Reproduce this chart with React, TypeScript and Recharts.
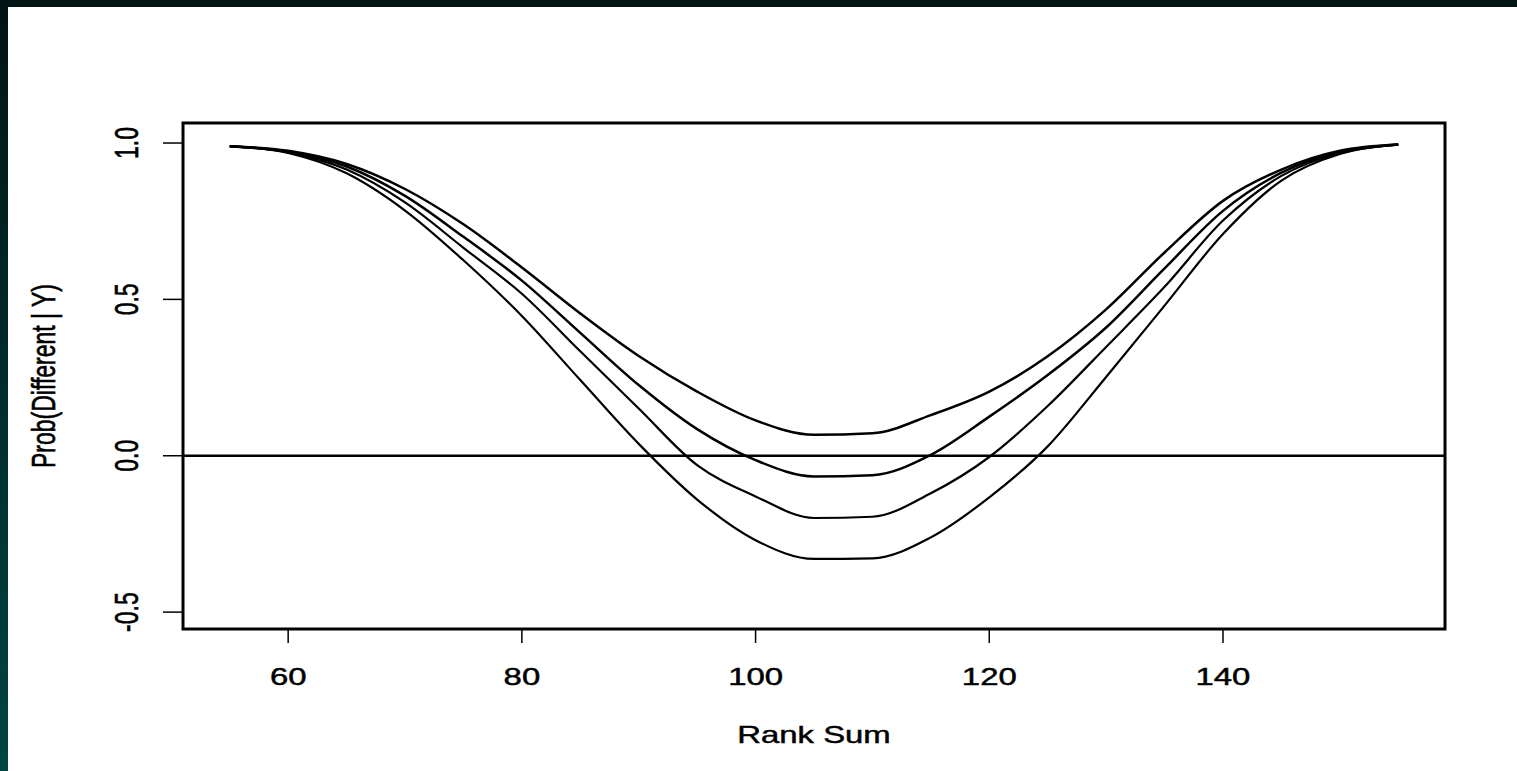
import { LineChart, Line, XAxis, YAxis, ReferenceLine, ReferenceArea, Label } from "recharts";

// rank sum grid and the four probability curves
const RANK_SUM = [55, 60, 65, 70, 75, 80, 85, 90, 95, 100, 105, 110, 115, 120, 125, 130, 135, 140, 145, 150, 155];
const CURVE_A = [0.99, 0.975, 0.933, 0.853, 0.74, 0.602, 0.455, 0.319, 0.205, 0.113, 0.067, 0.072, 0.13, 0.205, 0.318, 0.468, 0.65, 0.815, 0.915, 0.975, 0.995];
const CURVE_B = [0.99, 0.972, 0.925, 0.831, 0.7, 0.56, 0.393, 0.226, 0.085, -0.014, -0.066, -0.062, 0.003, 0.125, 0.258, 0.41, 0.599, 0.783, 0.905, 0.972, 0.995];
const CURVE_C = [0.99, 0.97, 0.915, 0.81, 0.665, 0.518, 0.334, 0.151, -0.03, -0.13, -0.199, -0.195, -0.12, -0.004, 0.159, 0.348, 0.54, 0.752, 0.895, 0.968, 0.995];
const CURVE_D = [0.99, 0.968, 0.903, 0.784, 0.625, 0.447, 0.242, 0.038, -0.14, -0.27, -0.33, -0.328, -0.261, -0.133, 0.03, 0.252, 0.48, 0.709, 0.88, 0.965, 0.995];

const X_TICKS = [60, 80, 100, 120, 140];
const Y_TICKS = [-0.5, 0, 0.5, 1.0];

const data = RANK_SUM.map((r, i) => ({
  rank: r,
  a: CURVE_A[i],
  b: CURVE_B[i],
  c: CURVE_C[i],
  d: CURVE_D[i],
}));

const FONT = "'Liberation Sans', Arial, sans-serif";
const STRETCH = 1.43;

const textStyle = {
  fontSize: 23,
  fontFamily: FONT,
  fill: "#000",
  stroke: "#000",
  strokeWidth: 0.45,
};

const XTick = ({ x, y, payload }: any) => (
  <text
    x={0}
    y={0}
    transform={`translate(${x},${y + 40}) scale(${STRETCH},1)`}
    textAnchor="middle"
    {...textStyle}
  >
    {payload.value}
  </text>
);

const YTick = ({ x, y, payload }: any) => (
  <text
    x={0}
    y={0}
    transform={`translate(${x - 23},${y}) scale(${STRETCH},1) rotate(-90)`}
    textAnchor="middle"
    {...textStyle}
  >
    {Number(payload.value).toFixed(1)}
  </text>
);

export default function App() {
  return (
    <div
      style={{
        position: "absolute",
        left: 0,
        top: 0,
        width: 1517,
        height: 771,
        background: "#fff",
        overflow: "hidden",
      }}
    >
      <div style={{ position: "absolute", left: 0, top: 0, width: 1517, height: 7, background: "#021414" }} />
      <div
        style={{
          position: "absolute",
          left: 0,
          top: 0,
          width: 8,
          height: 771,
          background: "linear-gradient(#021414, #004444)",
        }}
      />
      <div style={{ position: "absolute", left: 0, top: 0 }}>
        <LineChart width={1517} height={771} data={data} margin={{ top: 123, right: 72, left: 0, bottom: 0 }}>
          <XAxis
            dataKey="rank"
            type="number"
            domain={[51, 159]}
            ticks={X_TICKS}
            allowDataOverflow
            height={142}
            tickSize={14}
            tickLine={{ stroke: "#000", strokeWidth: 1.5 }}
            axisLine={false}
            tick={<XTick />}
          >
            <Label
              content={() => (
                <text
                  x={0}
                  y={0}
                  transform={`translate(814,743) scale(${STRETCH},1)`}
                  textAnchor="middle"
                  {...textStyle}
                >
                  Rank Sum
                </text>
              )}
            />
          </XAxis>
          <YAxis
            type="number"
            domain={[-0.554, 1.064]}
            ticks={Y_TICKS}
            allowDataOverflow
            width={183}
            tickSize={20}
            tickLine={{ stroke: "#000", strokeWidth: 1.5 }}
            axisLine={false}
            tick={<YTick />}
          >
            <Label
              content={() => (
                <text
                  x={0}
                  y={0}
                  transform={`translate(55,376) scale(${STRETCH},1) rotate(-90)`}
                  textAnchor="middle"
                  {...textStyle}
                >
                  Prob(Different | Y)
                </text>
              )}
            />
          </YAxis>
          <ReferenceArea x1={51} x2={159} y1={-0.554} y2={1.064} fill="none" stroke="#000" strokeWidth={3} />
          <ReferenceLine y={0} stroke="#000" strokeWidth={2.4} />
          <Line type="monotone" dataKey="a" stroke="#000" strokeWidth={2.5} dot={false} isAnimationActive={false} />
          <Line type="monotone" dataKey="b" stroke="#000" strokeWidth={2.5} dot={false} isAnimationActive={false} />
          <Line type="monotone" dataKey="c" stroke="#000" strokeWidth={2.2} dot={false} isAnimationActive={false} />
          <Line type="monotone" dataKey="d" stroke="#000" strokeWidth={2.2} dot={false} isAnimationActive={false} />
        </LineChart>
      </div>
    </div>
  );
}
